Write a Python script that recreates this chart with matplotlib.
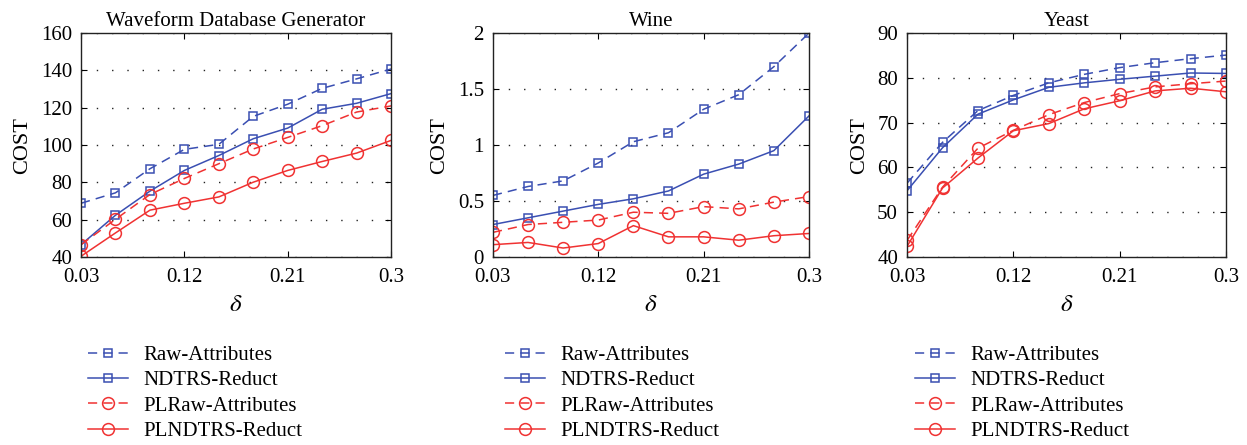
import matplotlib
matplotlib.use("Agg")
import matplotlib.pyplot as plt
import numpy as np

plt.rcParams['font.family'] = ['Liberation Serif', 'DejaVu Serif']
plt.rcParams['mathtext.fontset'] = 'stix'

# x values (delta)
delta = [0.03, 0.06, 0.09, 0.12, 0.15, 0.18, 0.21, 0.24, 0.27, 0.30]

titles = ["Waveform Database Generator", "Wine", "Yeast"]
series_names = ["Raw-Attributes", "NDTRS-Reduct", "PLRaw-Attributes", "PLNDTRS-Reduct"]

# Waveform Database Generator
wave_raw = [68.8, 74.4, 87.3, 97.7, 100.4, 115.4, 121.9, 130.4, 135.5, 140.8]
wave_ndtrs = [46.6, 62.4, 75.3, 86.4, 94.4, 103.4, 109.1, 119.2, 122.4, 127.6]
wave_plraw = [46.6, 60.2, 73.5, 82.1, 90.0, 97.9, 104.1, 110.4, 117.7, 121.0]
wave_plndtrs = [40.4, 52.9, 65.1, 68.8, 72.2, 80.1, 86.4, 91.2, 95.7, 102.5]

# Wine
wine_raw = [0.55, 0.63, 0.68, 0.84, 1.03, 1.11, 1.32, 1.45, 1.70, 2.0]
wine_ndtrs = [0.29, 0.35, 0.41, 0.47, 0.52, 0.59, 0.74, 0.83, 0.95, 1.26]
wine_plraw = [0.22, 0.29, 0.31, 0.33, 0.40, 0.39, 0.45, 0.43, 0.49, 0.54]
wine_plndtrs = [0.11, 0.13, 0.08, 0.12, 0.28, 0.18, 0.18, 0.15, 0.19, 0.21]

# Yeast
yeast_raw = [56.5, 65.6, 72.7, 76.1, 78.9, 80.8, 82.3, 83.4, 84.3, 85.1]
yeast_ndtrs = [54.8, 64.4, 71.9, 75.1, 77.9, 78.9, 79.7, 80.4, 81.1, 81.0]
yeast_plraw = [43.7, 55.6, 64.3, 68.3, 71.8, 74.5, 76.5, 78.0, 78.7, 79.3]
yeast_plndtrs = [42.4, 55.4, 62.1, 68.2, 69.8, 73.1, 74.9, 77.1, 77.7, 76.9]

data = [
    [wave_raw, wave_ndtrs, wave_plraw, wave_plndtrs],
    [wine_raw, wine_ndtrs, wine_plraw, wine_plndtrs],
    [yeast_raw, yeast_ndtrs, yeast_plraw, yeast_plndtrs],
]
ylims = [(40, 160), (0, 2), (40, 90)]
yticks = [np.arange(40, 161, 20), [0, 0.5, 1, 1.5, 2], np.arange(40, 91, 10)]
yticklabels = [None, ["0", "0.5", "1", "1.5", "2"], None]

blue = '#3a4fb2'
red = '#f03232'
styles = [
    dict(color=blue, ls=(0, (6, 4)), marker='s', ms=5.8),
    dict(color=blue, ls='-', marker='s', ms=5.8),
    dict(color=red, ls=(0, (6, 4)), marker='o', ms=8.5),
    dict(color=red, ls='-', marker='o', ms=8.5),
]

fig = plt.figure(figsize=(12.47, 4.45), dpi=100)
positions = [[0.065, 0.4225, 0.2486, 0.503],
             [0.3953, 0.4225, 0.2534, 0.503],
             [0.7274, 0.4225, 0.2558, 0.503]]
legend_x = [0.0706, 0.405, 0.734]

for i in range(3):
    ax = fig.add_axes(positions[i])
    lines = []
    for j in range(4):
        st = styles[j]
        ln, = ax.plot(delta, data[i][j], color=st['color'], linestyle=st['ls'],
                      marker=st['marker'], markersize=st['ms'], markerfacecolor='none',
                      markeredgewidth=1.1, linewidth=1.1, label=series_names[j])
        lines.append(ln)
    ax.set_xlim(0.03, 0.30)
    ax.set_ylim(*ylims[i])
    ax.set_xticks([0.03, 0.12, 0.21, 0.30])
    ax.set_xticklabels(["0.03", "0.12", "0.21", "0.3"])
    ax.set_yticks(yticks[i])
    if yticklabels[i] is not None:
        ax.set_yticklabels(yticklabels[i])
    ax.tick_params(direction='in', top=True, right=True, labelsize=15, length=4)
    ax.tick_params(axis='x', pad=8)
    ax.tick_params(axis='y', pad=6.5)
    ax.yaxis.grid(True, linestyle=(0, (1, 10)), color='#222222', linewidth=1.0)
    for sp in ax.spines.values():
        sp.set_linewidth(1.0)
        sp.set_color('#222222')
    ax.set_title(titles[i], fontsize=15, pad=5)
    ax.set_ylabel("COST", fontsize=16, labelpad=6)
    ax.set_xlabel(r"$\delta$", fontsize=18, labelpad=5)
    fig.legend(handles=lines, loc='upper left', bbox_to_anchor=(legend_x[i], 0.224),
               frameon=False, fontsize=15, handlelength=1.9, handletextpad=0.75,
               labelspacing=0.28, borderpad=0, borderaxespad=0)

fig.savefig("out.png", dpi=100)
